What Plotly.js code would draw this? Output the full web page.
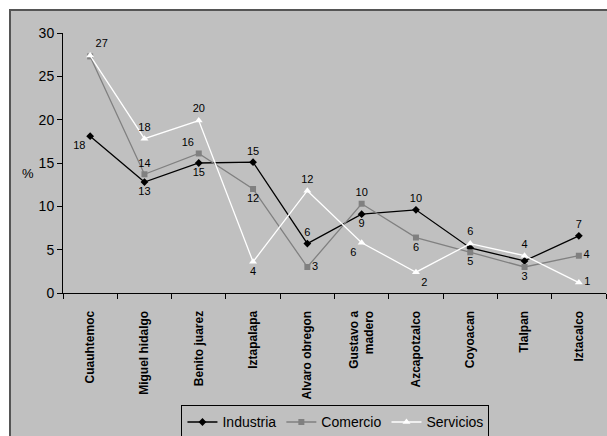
<!DOCTYPE html>
<html><head><meta charset="utf-8">
<script src="https://cdn.plot.ly/plotly-3.0.1.min.js"></script>
<style>
html,body{margin:0;padding:0;background:#fff;width:607px;height:436px;overflow:hidden}
#chart{position:absolute;left:9px;top:9px;width:598px;height:427px;border-top:2px solid #555;border-left:2px solid #555;box-sizing:border-box;background:#c0c0c0}
</style></head>
<body><div id="chart"></div>
<script>
const categories = ["Cuauhtemoc","Miguel hidalgo","Benito juarez","Iztapalapa","Alvaro obregon","Gustavo a<br>madero","Azcapotzalco","Coyoacan","Tlalpan","Iztacalco"];
const industria = [18.1, 12.8, 15.0, 15.1, 5.7, 9.1, 9.6, 5.2, 3.7, 6.6];
const comercio  = [27.3, 13.7, 16.1, 12.0, 3.0, 10.3, 6.4, 4.7, 3.0, 4.3];
const servicios = [27.4, 17.8, 19.9, 3.6, 11.8, 5.8, 2.4, 5.7, 4.3, 1.2];
// which labels are shown (styling)
const showInd = [1,1,1,1,1,1,1,0,0,1];
const showCom = [0,1,1,1,1,1,1,1,1,1];
const showSer = [1,1,1,1,1,1,1,1,1,1];
const posInd = ["bottom left","bottom center","bottom center","top center","top center","bottom center","top center","bottom center","bottom center","top center"];
const posCom = ["top center","top center","top left","bottom center","middle right","top center","bottom center","bottom center","bottom center","middle right"];
const posSer = ["top right","top center","top center","bottom center","top center","bottom left","bottom right","top center","top center","middle right"];

function labels(vals, show){ return vals.map((v,i)=> show[i] ? String(Math.round(v)) : ""); }
function tf(){ return {family:"Arial, Liberation Sans, sans-serif", size:11, color:"#000000"}; }

const traces = [
 {x:categories, y:industria, name:"Industria", type:"scatter", mode:"lines+markers+text",
  line:{color:"#000", width:1.3}, marker:{symbol:"diamond", size:6, color:"#000"},
  text:labels(industria, showInd), textposition:posInd, textfont:tf(), cliponaxis:false},
 {x:categories, y:comercio, name:"Comercio", type:"scatter", mode:"lines+markers+text",
  line:{color:"#808080", width:1.3}, marker:{symbol:"square", size:6, color:"#808080"},
  text:labels(comercio, showCom), textposition:posCom, textfont:tf(), cliponaxis:false},
 {x:categories, y:servicios, name:"Servicios", type:"scatter", mode:"lines+markers+text",
  line:{color:"#fff", width:1.3}, marker:{symbol:"triangle-up", size:7, color:"#fff"},
  text:labels(servicios, showSer), textposition:posSer, textfont:tf(), cliponaxis:false}
];

const layout = {
 width:596, height:425,
 margin:{l:52, r:1, t:22, b:143},
 paper_bgcolor:"#c0c0c0", plot_bgcolor:"#c0c0c0",
 font:{family:"Arial, Liberation Sans, sans-serif", color:"#000"},
 showlegend:true,
 legend:{orientation:"h", xref:"container", yref:"container", x:0.286, xanchor:"left", y:0.072, yanchor:"top",
   bgcolor:"#c0c0c0", bordercolor:"#000", borderwidth:1,
   font:{size:14, family:"Liberation Sans Narrow, Arial Narrow, Arial, sans-serif", color:"#000"},
   itemwidth:30, tracegroupgap:0},
 xaxis:{type:"category", showline:true, linecolor:"#000", linewidth:1, showgrid:false,
   ticks:"outside", tickson:"boundaries", ticklen:5, tickcolor:"#000",
   ticklabelstandoff:12, automargin:false,
   tickangle:-90, tickfont:{size:12, family:"Liberation Sans Narrow, Arial, sans-serif", weight:"bold", color:"#000"},
   range:[-0.5, 9.5], zeroline:false},
 yaxis:{range:[0,30], dtick:5, showline:true, linecolor:"#000", linewidth:1, showgrid:false, automargin:false,
   ticks:"outside", ticklen:5, tickcolor:"#000", zeroline:false,
   tickfont:{size:14, family:"Liberation Sans Narrow, Arial Narrow, Arial, sans-serif", color:"#000"}},
 annotations:[{text:"%", xref:"paper", yref:"paper", x:-0.08, y:0.46, showarrow:false,
   font:{size:13, color:"#000"}}]
};
Plotly.newPlot("chart", traces, layout, {displayModeBar:false, staticPlot:true});
</script></body></html>
